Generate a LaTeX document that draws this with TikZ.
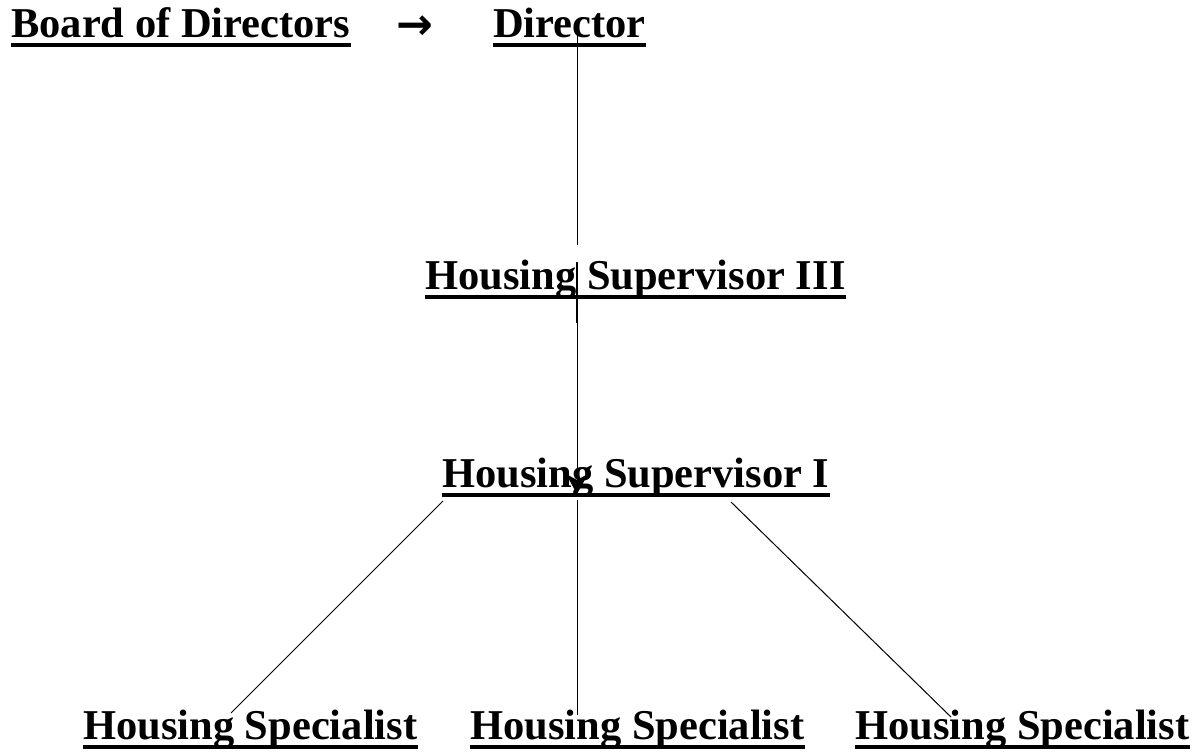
\documentclass[tikz,border=0pt]{standalone}
\usepackage{fontspec}
\setmainfont{Liberation Serif}
\newfontfamily\symfont{DejaVu Sans}
\usetikzlibrary{arrows.meta}
\tikzset{
  title/.style={anchor=base west, inner sep=0pt, font=\bfseries\fontsize{42.5}{50}\selectfont},
  ul/.style={line width=4pt},
  conn/.style={line width=1pt},
  thickconn/.style={line width=2.4pt},
}
\begin{document}
\begin{tikzpicture}[x=1pt,y=-1pt]
\useasboundingbox (0,0) rectangle (1195,752);
% text nodes
\node[title] (board) at (11,38) {Board of Directors};
\node[anchor=center, inner sep=0pt, font=\symfont\bfseries\fontsize{44}{48}\selectfont] (arr) at (415,28) {→};
\node[title] (dir) at (493,38) {Director};
\node[title] (hs3) at (425,289) {Housing Supervisor III};
\node[title] (hs1) at (442,487) {Housing Supervisor I};
\node[title] (sp1) at (83,739) {Housing Specialist};
\node[title] (sp2) at (470,739) {Housing Specialist};
\node[title] (sp3) at (855,739) {Housing Specialist};
% underlines
\foreach \n in {board,dir,hs3,hs1,sp1,sp2,sp3}{
  \draw[ul] ([yshift=-7.5pt]\n.base west) -- ([yshift=-7.5pt]\n.base east);
}
% connector end points
\coordinate (dirdown) at (577,33);
\coordinate (hs3top) at (577,245);
\coordinate (hs3a) at (577,262);
\coordinate (hs3b) at (577,323);
\coordinate (hs3c) at (577,300);
\coordinate (hs1tip) at (577,494);
\coordinate (hs1l) at (443,501);
\coordinate (hs1m) at (577,500);
\coordinate (hs1r) at (731,502);
\coordinate (sp1top) at (231,713);
\coordinate (sp2top) at (577,715);
\coordinate (sp3top) at (951,717);
% connectors
\draw[conn] (dirdown) -- (hs3top);
\draw[thickconn] (hs3a) -- (hs3b);
\draw[conn,-{Stealth[width=22pt,length=20pt,inset=6pt]}] (hs3c) -- (hs1tip);
\draw[conn] (hs1l) -- (sp1top);
\draw[conn] (hs1m) -- (sp2top);
\draw[conn] (hs1r) -- (sp3top);
\end{tikzpicture}
\end{document}
